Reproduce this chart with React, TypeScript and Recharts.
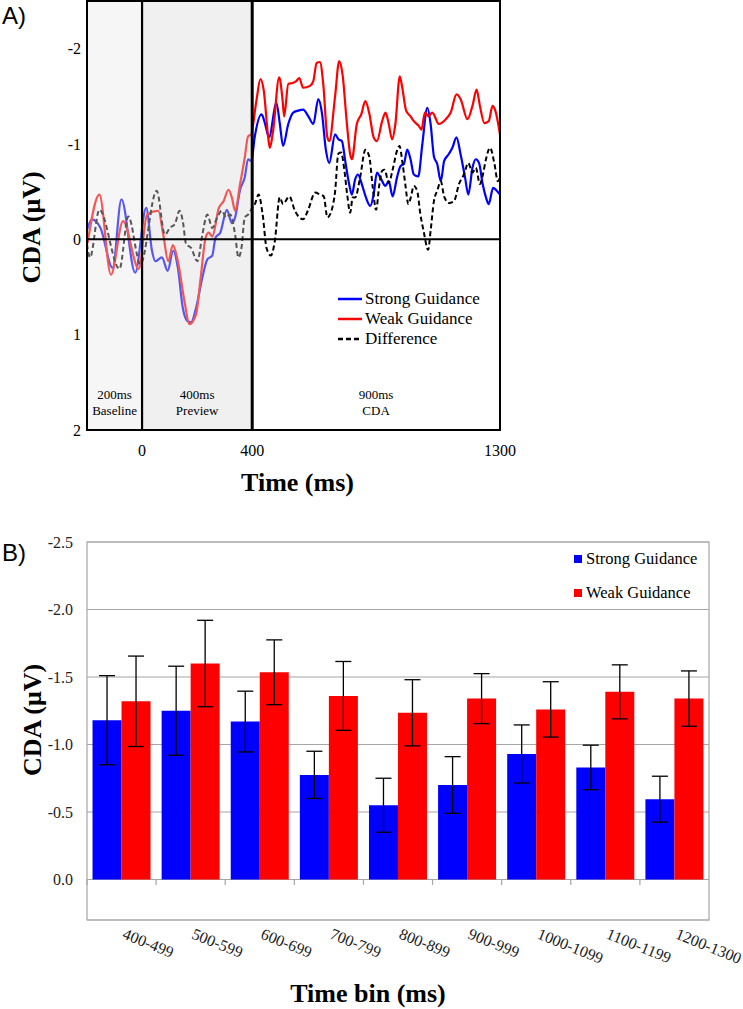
import React from "react";
import {
  LineChart,
  Line,
  BarChart,
  Bar,
  ErrorBar,
  XAxis,
  YAxis,
  CartesianGrid,
  ReferenceArea,
  ReferenceLine,
  Legend,
  Label,
} from "recharts";

const SERIF = '"Liberation Serif", "Times New Roman", serif';
const SANS = '"Liberation Sans", Arial, sans-serif';

// Panel A: grand-average waveforms, [time (ms), amplitude (µV)]
const strongGuidance: [number, number][] = [
  [-200, -0.1], [-182, -0.21], [-151, -0.12], [-107, 0.3], [-75, -0.42], [-25, 0.35],
  [15, -0.33], [36, 0.12], [48, 0.23], [72, 0.19], [93, 0.33], [113, 0.12], [130, 0.3],
  [148, 0.72], [166, 0.86], [178, 0.87], [196, 0.72], [219, 0.4], [237, 0.21], [255, 0.17],
  [267, -0.02], [284, -0.07], [308, -0.31], [326, -0.17], [338, -0.23], [356, -0.52],
  [373, -0.65], [385, -0.84], [397, -0.82], [409, -1.07], [434, -1.31], [446, -1.22],
  [461, -1.07], [488, -1.43], [500, -1.22], [512, -0.98], [531, -1.21], [549, -1.33],
  [567, -1.35], [585, -1.36], [604, -1.29], [622, -1.21], [640, -1.47], [653, -1.33],
  [668, -0.93], [680, -0.8], [701, -1.1], [713, -1.05], [726, -1.03], [738, -0.82],
  [752, -0.58], [762, -0.47], [774, -0.63], [784, -0.68], [798, -0.58], [813, -0.44],
  [829, -0.35], [841, -0.47], [853, -0.7], [865, -0.65], [884, -0.56], [896, -0.61],
  [910, -0.45], [926, -0.65], [939, -0.77], [951, -0.79], [963, -0.94], [975, -0.84],
  [987, -0.68], [1003, -0.66], [1018, -1.0], [1036, -1.38], [1048, -1.21], [1060, -0.87],
  [1072, -0.79], [1085, -0.61], [1097, -0.82], [1113, -0.89], [1127, -0.96], [1142, -1.07],
  [1157, -0.89], [1173, -0.65], [1185, -0.47], [1200, -0.75], [1212, -0.84], [1224, -0.8],
  [1237, -0.58], [1249, -0.44], [1259, -0.37], [1275, -0.54], [1288, -0.51], [1300, -0.47],
];

const weakGuidance: [number, number][] = [
  [-198, 0.04], [-155, -0.47], [-113, 0.37], [-69, -0.19], [-12, 0.31], [18, -0.26],
  [59, -0.3], [77, -0.05], [95, 0.23], [112, 0.06], [130, 0.23], [154, 0.65], [172, 0.89],
  [196, 0.79], [213, 0.4], [231, -0.02], [242, -0.07], [255, -0.03], [279, -0.33],
  [296, -0.4], [314, -0.52], [326, -0.44], [338, -0.3], [356, -0.58], [373, -0.86],
  [385, -1.08], [396, -1.1], [415, -1.45], [430, -1.68], [442, -1.56], [458, -1.07],
  [464, -0.96], [476, -1.14], [498, -1.7], [510, -1.47], [516, -1.29], [531, -1.63],
  [547, -1.64], [560, -1.66], [571, -1.69], [585, -1.59], [610, -1.61], [622, -1.66],
  [634, -1.85], [646, -1.86], [658, -1.63], [673, -1.07], [680, -1.03], [701, -1.5],
  [716, -1.87], [728, -1.73], [744, -1.21], [756, -0.89], [762, -0.84], [780, -1.21],
  [796, -1.31], [811, -1.45], [826, -1.31], [841, -1.07], [853, -1.03], [872, -1.24],
  [884, -1.33], [896, -1.21], [908, -1.05], [920, -1.21], [936, -1.71], [945, -1.59],
  [959, -1.35], [975, -1.29], [987, -1.24], [1005, -1.19], [1015, -1.15], [1027, -1.33],
  [1040, -1.29], [1054, -1.33], [1078, -1.21], [1103, -1.26], [1121, -1.33], [1142, -1.52],
  [1157, -1.47], [1182, -1.26], [1200, -1.4], [1215, -1.57], [1227, -1.4], [1243, -1.22],
  [1259, -1.24], [1273, -1.4], [1283, -1.35], [1300, -1.1],
];

const difference: [number, number][] = [
  [-200, 0.05], [-189, 0.19], [-155, -0.31], [-82, 0.31], [-50, -0.24], [-6, 0.26],
  [53, -0.51], [83, -0.05], [101, -0.12], [119, -0.16], [136, -0.3], [148, -0.19],
  [160, 0.05], [178, 0.09], [201, 0.23], [219, -0.05], [237, -0.26], [255, -0.12],
  [273, -0.23], [290, -0.3], [305, -0.23], [320, -0.26], [338, -0.05], [350, 0.19],
  [361, 0.09], [373, -0.23], [385, -0.26], [400, -0.33], [410, -0.37], [423, -0.47],
  [438, -0.26], [452, 0.09], [468, 0.17], [482, 0.02], [500, -0.44], [512, -0.37],
  [535, -0.45], [555, -0.3], [585, -0.21], [602, -0.3], [629, -0.49], [646, -0.47],
  [660, -0.45], [673, -0.23], [689, -0.31], [701, -0.5], [713, -0.9], [723, -0.91],
  [735, -0.72], [745, -0.47], [756, -0.28], [765, -0.44], [774, -0.44], [792, -0.65],
  [811, -0.94], [825, -0.87], [838, -0.54], [850, -0.31], [862, -0.58], [872, -0.72],
  [881, -0.73], [896, -0.59], [910, -0.73], [926, -0.93], [935, -0.98], [945, -0.82],
  [956, -0.58], [967, -0.37], [976, -0.44], [987, -0.56], [999, -0.51], [1011, -0.26],
  [1023, -0.08], [1039, 0.11], [1048, -0.09], [1060, -0.4], [1072, -0.51], [1085, -0.61],
  [1097, -0.45], [1115, -0.38], [1133, -0.4], [1151, -0.58], [1169, -0.68], [1185, -0.8],
  [1200, -0.7], [1212, -0.75], [1227, -0.58], [1238, -0.68], [1249, -0.84], [1264, -0.96],
  [1280, -0.79], [1292, -0.61], [1300, -0.65],
];

const waveNames = ["Strong Guidance", "Weak Guidance", "Difference"];
const waveTicksX = [0, 400, 1300];
const waveTicksY = [-2, -1, 0, 1, 2];

// trial periods shown as bands in panel A
const periods = [
  { from: -200, to: 0, length: "200ms", name: "Baseline", shade: "#e8e8e8", opacity: 0.38 },
  { from: 0, to: 400, length: "400ms", name: "Preview", shade: "#d9d9d9", opacity: 0.4 },
  { from: 400, to: 1300, length: "900ms", name: "CDA", shade: "none", opacity: 0 },
];

// Panel B: mean CDA per time bin with error bars
const timeBins = [
  "400-499", "500-599", "600-699", "700-799", "800-899",
  "900-999", "1000-1099", "1100-1199", "1200-1300",
];
const strongMeans = [-1.18, -1.25, -1.17, -0.775, -0.55, -0.7, -0.93, -0.83, -0.595];
const weakMeans = [-1.32, -1.6, -1.535, -1.36, -1.235, -1.34, -1.26, -1.39, -1.34];
const strongErrors = [0.33, 0.33, 0.225, 0.175, 0.2, 0.21, 0.215, 0.165, 0.17];
const weakErrors = [0.335, 0.32, 0.24, 0.255, 0.245, 0.185, 0.205, 0.2, 0.205];
const barTicksY = [-2.5, -2, -1.5, -1, -0.5, 0];

const toPoints = (pairs: [number, number][]) => pairs.map(([t, v]) => ({ t, v }));

const barData = timeBins.map((bin, i) => ({
  bin,
  idx: i + 0.5,
  strong: strongMeans[i],
  weak: weakMeans[i],
  strongErr: strongErrors[i],
  weakErr: weakErrors[i],
}));

function PeriodLabel({ viewBox, top, bottom }: any) {
  const cx = viewBox.x + viewBox.width / 2;
  const base = viewBox.y + viewBox.height;
  return (
    <text x={cx} y={base - 31} textAnchor="middle" fontFamily={SERIF} fontSize={13} fill="#000">
      <tspan x={cx}>{top}</tspan>
      <tspan x={cx} dy={16}>{bottom}</tspan>
    </text>
  );
}

function WaveLegend({ payload }: any) {
  // keep the series order instead of the alphabetical one
  const items = [...(payload || [])].sort(
    (a: any, b: any) => waveNames.indexOf(a.value) - waveNames.indexOf(b.value)
  );
  return (
    <div style={{ fontFamily: SERIF, fontSize: 17, color: "#000" }}>
      {items.map((entry: any) => (
        <div key={entry.value} style={{ display: "flex", alignItems: "center", height: 20 }}>
          <svg width={24} height={4} style={{ marginRight: 3 }}>
            <line
              x1={0}
              y1={2}
              x2={24}
              y2={2}
              stroke={entry.color}
              strokeWidth={2.5}
              strokeDasharray={entry.payload?.strokeDasharray}
            />
          </svg>
          <span>{entry.value}</span>
        </div>
      ))}
    </div>
  );
}

function BarLegend({ payload }: any) {
  return (
    <div style={{ fontFamily: SERIF, fontSize: 16.5, color: "#000" }}>
      {(payload || []).map((entry: any) => (
        <div key={entry.value} style={{ display: "flex", alignItems: "center", height: 34 }}>
          <span style={{ width: 8, height: 8, background: entry.color, marginRight: 4 }} />
          <span>{entry.value}</span>
        </div>
      ))}
    </div>
  );
}

function BinTick({ x, y, payload }: any) {
  const by = y + 10;
  return (
    <text
      x={x}
      y={by}
      transform={`rotate(22 ${x} ${by})`}
      fontFamily={SERIF}
      fontSize={16}
      fill="#222"
    >
      {payload.value}
    </text>
  );
}

export default function App() {
  return (
    <div style={{ position: "absolute", left: 0, top: 0, width: 743, height: 1009, background: "#fff" }}>
      <div style={{ position: "absolute", left: 2, top: 4, fontFamily: SANS, fontSize: 24, lineHeight: "24px" }}>
        A)
      </div>
      <div style={{ position: "absolute", left: 2, top: 541, fontFamily: SANS, fontSize: 24, lineHeight: "24px" }}>
        B)
      </div>

      <div style={{ position: "absolute", left: 0, top: 0 }}>
        <LineChart width={743} height={500} margin={{ top: 1, right: 243, bottom: 0, left: 0 }}>
          <XAxis
            dataKey="t"
            type="number"
            domain={[-200, 1300]}
            ticks={waveTicksX}
            axisLine={false}
            tickLine={false}
            tickMargin={9}
            height={70}
            tick={{ fontFamily: SERIF, fontSize: 16, fill: "#000" }}
          >
            <Label
              value="Time (ms)"
              position="center"
              dx={4}
              dy={17}
              fontFamily={SERIF}
              fontSize={26}
              fontWeight="bold"
              fill="#000"
            />
          </XAxis>
          <YAxis
            type="number"
            domain={[-2.5, 2]}
            reversed
            ticks={waveTicksY}
            axisLine={false}
            tickLine={false}
            tickMargin={0}
            width={87}
            tick={{ fontFamily: SERIF, fontSize: 16, fill: "#000" }}
          >
            <Label
              value="CDA (μV)"
              position="center"
              angle={-90}
              dx={-13}
              dy={12}
              fontFamily={SERIF}
              fontSize={26}
              fontWeight="bold"
              fill="#000"
            />
          </YAxis>
          <Line
            data={toPoints(strongGuidance)}
            dataKey="v"
            name="Strong Guidance"
            type="monotone"
            stroke="#0000ff"
            strokeWidth={2.2}
            dot={false}
            isAnimationActive={false}
          />
          <Line
            data={toPoints(weakGuidance)}
            dataKey="v"
            name="Weak Guidance"
            type="monotone"
            stroke="#ff0000"
            strokeWidth={2.2}
            dot={false}
            isAnimationActive={false}
          />
          <Line
            data={toPoints(difference)}
            dataKey="v"
            name="Difference"
            type="monotone"
            stroke="#000"
            strokeWidth={2}
            strokeDasharray="5 3"
            dot={false}
            isAnimationActive={false}
          />
          {periods.map((p) => (
            <ReferenceArea
              key={p.name}
              x1={p.from}
              x2={p.to}
              y1={-2.5}
              y2={2}
              fill={p.shade}
              fillOpacity={p.opacity}
              stroke="none"
              zIndex={900}
              label={(props: any) => <PeriodLabel {...props} top={p.length} bottom={p.name} />}
            />
          ))}
          <ReferenceLine y={0} stroke="#000" strokeWidth={2} zIndex={1000} />
          <ReferenceLine x={0} stroke="#000" strokeWidth={2.2} zIndex={1000} />
          <ReferenceLine x={400} stroke="#000" strokeWidth={3} zIndex={1000} />
          <ReferenceArea
            x1={-200}
            x2={1300}
            y1={-2.5}
            y2={2}
            fill="none"
            stroke="#000"
            strokeWidth={2}
            zIndex={1000}
          />
          <Legend
            layout="vertical"
            align="center"
            verticalAlign="middle"
            content={WaveLegend}
            wrapperStyle={{ position: "absolute", left: 338, top: 289, width: 200 }}
          />
        </LineChart>
      </div>

      <div style={{ position: "absolute", left: 0, top: 510 }}>
        <BarChart
          width={743}
          height={499}
          data={barData}
          margin={{ top: 32, right: 34, bottom: 0, left: 0 }}
          barCategoryGap="8%"
          barGap={0}
        >
          <CartesianGrid vertical={false} stroke="#a6a6a6" strokeWidth={1.2} />
          <XAxis
            dataKey="bin"
            axisLine={false}
            tickLine={false}
            height={89}
            interval={0}
            tick={<BinTick />}
          >
            <Label
              value="Time bin (ms)"
              position="center"
              dx={-30}
              dy={28}
              fontFamily={SERIF}
              fontSize={26}
              fontWeight="bold"
              fill="#000"
            />
          </XAxis>
          <XAxis xAxisId="num" dataKey="idx" type="number" domain={[0, timeBins.length]} hide />
          <YAxis
            type="number"
            domain={[-2.5, 0.3]}
            reversed
            ticks={barTicksY}
            tickFormatter={(v: number) => v.toFixed(1)}
            axisLine={false}
            tickLine={false}
            tickMargin={8}
            width={87}
            tick={{ fontFamily: SERIF, fontSize: 16, fill: "#222" }}
          >
            <Label
              value="CDA (μV)"
              position="center"
              angle={-90}
              dx={-12}
              dy={-11}
              fontFamily={SERIF}
              fontSize={26}
              fontWeight="bold"
              fill="#000"
            />
          </YAxis>
          <Bar dataKey="strong" name="Strong Guidance" fill="#0000ff" isAnimationActive={false}>
            <ErrorBar dataKey="strongErr" width={8} stroke="#000" strokeWidth={1.3} isAnimationActive={false} />
          </Bar>
          <Bar dataKey="weak" name="Weak Guidance" fill="#ff0000" isAnimationActive={false}>
            <ErrorBar dataKey="weakErr" width={8} stroke="#000" strokeWidth={1.3} isAnimationActive={false} />
          </Bar>
          {timeBins.map((_, i) => (
            <ReferenceLine
              key={i}
              xAxisId="num"
              segment={[{ x: i, y: 0 }, { x: i, y: 0.04 }]}
              stroke="#a6a6a6"
              strokeWidth={1.2}
            />
          ))}
          <ReferenceArea
            xAxisId="num"
            x1={0}
            x2={timeBins.length}
            y1={-2.5}
            y2={0.3}
            fill="none"
            stroke="#a6a6a6"
            strokeWidth={1.2}
          />
          <Legend
            layout="vertical"
            align="center"
            verticalAlign="middle"
            content={BarLegend}
            wrapperStyle={{ position: "absolute", left: 574, top: 32, width: 160 }}
          />
        </BarChart>
      </div>
    </div>
  );
}
